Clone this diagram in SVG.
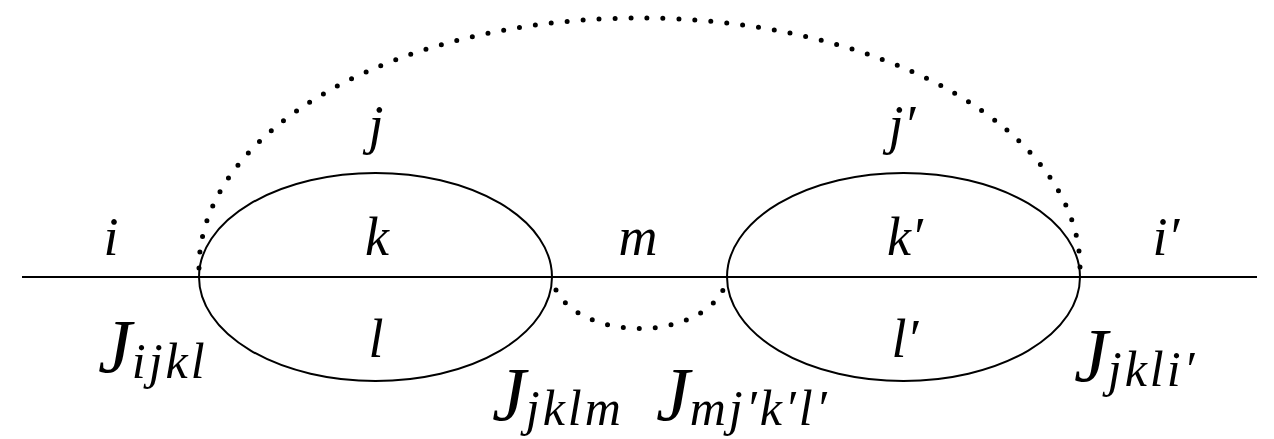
<svg xmlns="http://www.w3.org/2000/svg" width="1274" height="439" viewBox="0 0 1274 439">
<style>
.solid{fill:none;stroke:#000;stroke-width:2}
.dot{fill:none;stroke:#000;stroke-width:5;stroke-linecap:round;stroke-dasharray:0 16}
.lab{font-family:"Liberation Serif",serif;font-style:italic;font-size:54px;fill:#000;text-anchor:middle}
.J{font-family:"Liberation Serif",serif;font-style:italic;font-size:76px;fill:#000}
.sub{font-size:50px;letter-spacing:3px}
</style>
<rect width="1274" height="439" fill="#fff"/>
<g id="connectors">
<line class="solid" x1="22" y1="277" x2="1257" y2="277"/>
<path class="dot" d="M199,268 A440.5,250 0 0 1 1080,268"/>
<path class="dot" d="M556,290 A87.5,55 0 0 0 723,290"/>
</g>
<g id="loop1"><ellipse class="solid" cx="375.5" cy="277" rx="176.5" ry="104"/></g>
<g id="loop2"><ellipse class="solid" cx="903.5" cy="277" rx="176.5" ry="104"/></g>
<g id="labels">
<text class="lab" x="111" y="255">i</text>
<text class="lab" x="376" y="143">j</text>
<text class="lab" x="377" y="255">k</text>
<text class="lab" x="376" y="357">l</text>
<text class="lab" x="638" y="255">m</text>
<text class="lab" x="902" y="143">j′</text>
<text class="lab" x="905" y="255">k′</text>
<text class="lab" x="905" y="357">l′</text>
<text class="lab" x="1166" y="255">i′</text>
</g>
<g id="J1"><text class="J" x="98" y="372">J<tspan class="sub" dy="6">ijkl</tspan></text></g>
<g id="J2"><text class="J" x="492" y="420">J<tspan class="sub" dy="5">jklm</tspan></text></g>
<g id="J3"><text class="J" x="656" y="420">J<tspan class="sub" dy="5">mj′k′l′</tspan></text></g>
<g id="J4"><text class="J" x="1074" y="381">J<tspan class="sub" dy="5">jkli′</tspan></text></g>
</svg>
